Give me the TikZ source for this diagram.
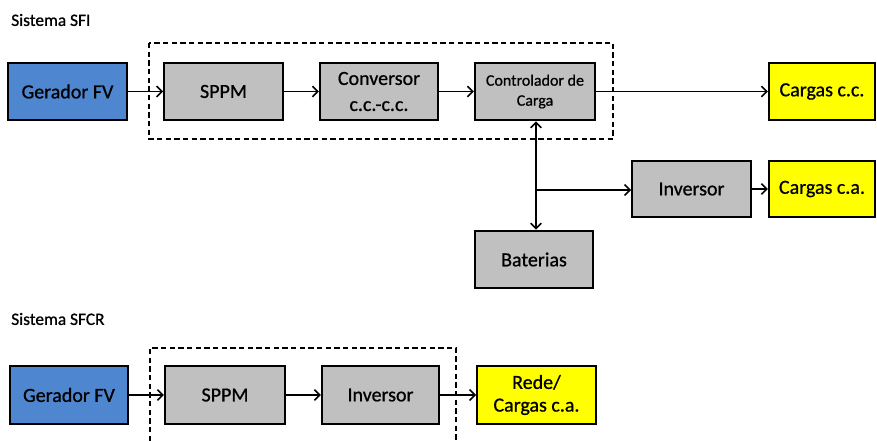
\documentclass[tikz,border=0pt]{standalone}
\usepackage{fontspec}
\setmainfont{Carlito}
\newfontfamily\boxfont[FakeBold=0.8]{Carlito}
\usetikzlibrary{arrows.meta}
\definecolor{bluebox}{HTML}{4F86D0}
\definecolor{graybox}{HTML}{C0C0C0}
\definecolor{yelbox}{HTML}{FFFF00}
\tikzset{
  bx/.style={draw=black, line width=1.7pt, inner sep=0pt, align=center,
    minimum width=89pt, minimum height=43pt, font=\boxfont\fontsize{15}{19.5}\selectfont},
  gen/.style={bx, fill=bluebox},
  gray/.style={bx, fill=graybox},
  load/.style={bx, fill=yelbox},
  conn/.style={line width=1.2pt, -{Straight Barb[length=4pt,width=8pt,line width=1.2pt]}},
  dconn/.style={line width=1.2pt, {Straight Barb[length=4pt,width=8pt,line width=1.2pt]}-{Straight Barb[length=4pt,width=8pt,line width=1.2pt]}},
  dbox/.style={line width=1.3pt, dash pattern=on 4pt off 2.5pt},
  ttl/.style={anchor=west, inner sep=0pt, font=\boxfont\fontsize{13}{15}\selectfont}
}
\begin{document}
\begin{tikzpicture}[x=0.75pt,y=-0.75pt]
\useasboundingbox (0,0) rectangle (877,441);
\fill[white] (0,0) rectangle (877,441);
% titles
\node[ttl] (t1) at (11,20) {Sistema SFI};
\node[ttl] (t2) at (11,319) {Sistema SFCR};
% SFI dashed box
\draw[dbox] (149,43) rectangle (613,139);
% SFI nodes
\node[gen] (g1) at (67.5,91.5) {Gerador FV};
\node[gray] (s1) at (223.5,91.5) {SPPM};
\node[gray, minimum width=88.5pt] (c1) at (379,91.5) {Conversor\\c.c.-c.c.};
\node[gray, minimum width=90pt, font=\boxfont\fontsize{12}{15}\selectfont] (ctl) at (535,91.5) {Controlador de\\Carga};
\node[load, minimum width=79.5pt] (lcc) at (822,91.5) {Cargas c.c.};
\node[gray, minimum height=42pt] (inv1) at (691.5,189) {Inversor};
\node[load, minimum width=79.5pt, minimum height=42pt] (lca) at (822,189) {Cargas c.a.};
\node[gray, minimum width=88.5pt] (bat) at (534,259.5) {Baterias};
\coordinate (vb) at (536,190);
% SFI connectors
\draw[conn] (g1) -- (s1);
\draw[conn] (s1) -- (c1);
\draw[conn] (c1) -- (ctl);
\draw[conn] (ctl) -- (lcc);
\draw[dconn] (ctl.south -| vb) -- (bat.north -| vb);
\draw[conn] (vb) -- (inv1.west |- vb);
\draw[conn] (inv1) -- (lca);
% SFCR dashed box (open at bottom)
\draw[dbox] (150,441) -- (150,348) -- (456,348) -- (456,441);
% SFCR nodes
\node[gen, minimum height=43.5pt] (g2) at (69,395) {Gerador FV};
\node[gray, minimum width=90pt, minimum height=43.5pt] (s2) at (225,395) {SPPM};
\node[gray, minimum width=87.75pt, minimum height=43.5pt] (inv2) at (380.5,395) {Inversor};
\node[load, minimum height=43.5pt, font=\boxfont\fontsize{15}{17}\selectfont] (rede) at (536.5,395) {Rede/\\Cargas c.a.};
\draw[conn] (g2) -- (s2);
\draw[conn] (s2) -- (inv2);
\draw[conn] (inv2) -- (rede);
\end{tikzpicture}
\end{document}
